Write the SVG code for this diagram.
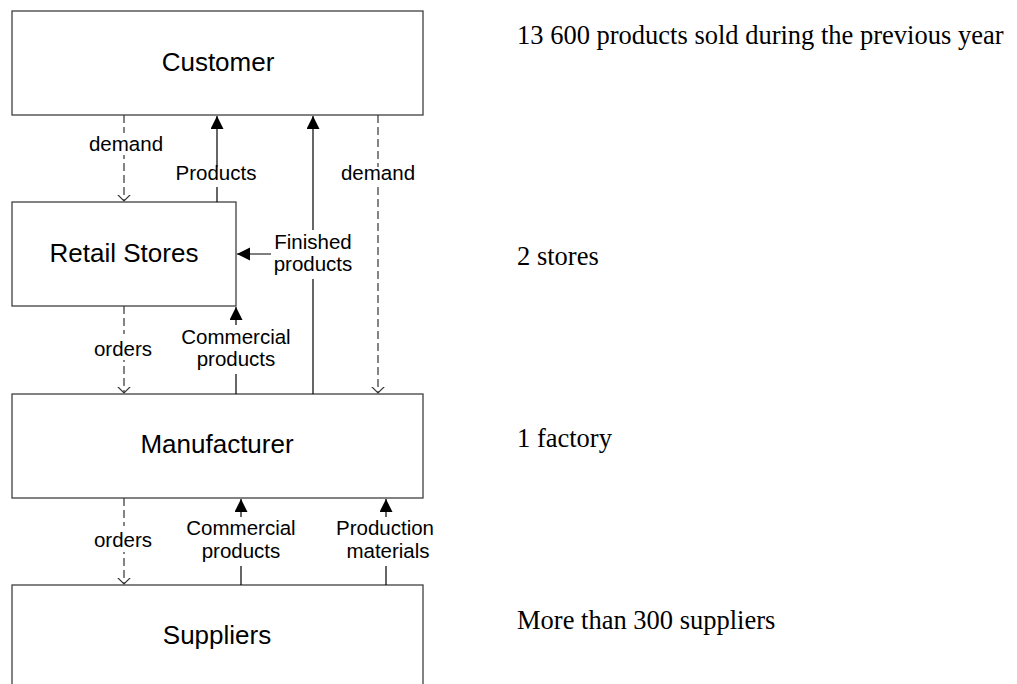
<svg xmlns="http://www.w3.org/2000/svg" width="1017" height="684" viewBox="0 0 1017 684">
<style>
.box{fill:#fff;stroke:#404040;stroke-width:1.3}
.bl{font-family:"Liberation Sans",Arial,sans-serif;font-size:26px;fill:#000;text-anchor:middle}
.lb{font-family:"Liberation Sans",Arial,sans-serif;font-size:20.5px;fill:#000;text-anchor:middle}
.rt{font-family:"Liberation Serif","Times New Roman",serif;font-size:26.5px;fill:#000}
.solid{stroke:#000;stroke-width:1.2;fill:none}
.dash{stroke:#333;stroke-width:1.2;fill:none;stroke-dasharray:8 4}
.bg{fill:#fff}
</style>
<defs>
<marker id="fa" markerUnits="userSpaceOnUse" markerWidth="14" markerHeight="14" refX="13" refY="6.5" orient="auto">
<path d="M0,0 L13,6.5 L0,13 z" fill="#000"/>
</marker>
<marker id="oa" markerUnits="userSpaceOnUse" markerWidth="8" markerHeight="14" refX="6.5" refY="6.5" orient="auto">
<path d="M0,0 L6.5,6.5 L0,13" fill="none" stroke="#333" stroke-width="1.2"/>
</marker>
</defs>
<g id="customer"><rect class="box" x="12" y="11" width="411" height="104"/><text class="bl" x="218" y="71">Customer</text></g>
<g id="retail"><rect class="box" x="12" y="202" width="224" height="104"/><text class="bl" x="124" y="262">Retail Stores</text></g>
<g id="manufacturer"><rect class="box" x="12" y="394" width="411" height="104"/><text class="bl" x="217" y="453">Manufacturer</text></g>
<g id="suppliers"><rect class="box" x="12" y="585" width="411" height="110"/><text class="bl" x="217" y="644">Suppliers</text></g>
<g id="connectors">
<path class="dash" d="M124,115 V201" marker-end="url(#oa)"/>
<path class="solid" d="M217,202 V116" marker-end="url(#fa)"/>
<path class="solid" d="M313,394 V116" marker-end="url(#fa)"/>
<path class="solid" d="M296,254 H237" marker-end="url(#fa)"/>
<path class="dash" d="M378,115 V393" marker-end="url(#oa)"/>
<path class="dash" d="M124,306 V393" marker-end="url(#oa)"/>
<path class="solid" d="M236,394 V307" marker-end="url(#fa)"/>
<path class="dash" d="M124,498 V584" marker-end="url(#oa)"/>
<path class="solid" d="M241,585 V499" marker-end="url(#fa)"/>
<path class="solid" d="M386,585 V499" marker-end="url(#fa)"/>
</g>
<g id="labels">
<rect class="bg" x="86" y="133" width="80" height="22"/><text class="lb" x="126" y="151">demand</text>
<rect class="bg" x="172" y="167" width="90" height="20"/><text class="lb" x="216" y="180">Products</text>
<rect class="bg" x="337" y="167" width="82" height="20"/><text class="lb" x="378" y="180">demand</text>
<rect class="bg" x="271" y="230" width="84" height="49"/><text class="lb" x="313" y="249">Finished</text><text class="lb" x="313" y="271">products</text>
<rect class="bg" x="91" y="334" width="66" height="26"/><text class="lb" x="123" y="356">orders</text>
<rect class="bg" x="177" y="325" width="118" height="49"/><text class="lb" x="236" y="344">Commercial</text><text class="lb" x="236" y="366">products</text>
<rect class="bg" x="91" y="526" width="66" height="26"/><text class="lb" x="123" y="547">orders</text>
<rect class="bg" x="183" y="517" width="118" height="49"/><text class="lb" x="241" y="535">Commercial</text><text class="lb" x="241" y="558">products</text>
<rect class="bg" x="332" y="517" width="106" height="49"/><text class="lb" x="385" y="535">Production</text><text class="lb" x="388" y="558">materials</text>
</g>
<g id="notes">
<text class="rt" x="517" y="44">13 600 products sold during the previous year</text>
<text class="rt" x="517" y="265">2 stores</text>
<text class="rt" x="517" y="447">1 factory</text>
<text class="rt" x="517" y="629">More than 300 suppliers</text>
</g>
</svg>
